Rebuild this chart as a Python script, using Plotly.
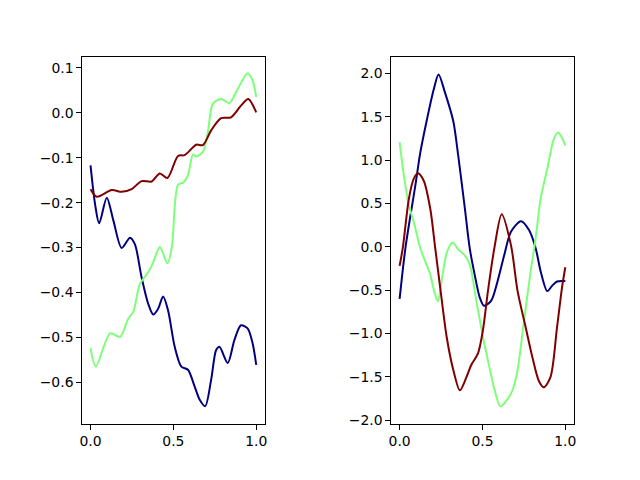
import plotly.graph_objects as go

# Left panel data
l_blue_x = [0.0, 0.028, 0.052, 0.098, 0.138, 0.188, 0.238, 0.268, 0.308, 0.348, 0.378, 0.408, 0.438, 0.468, 0.508, 0.548, 0.588, 0.628, 0.658, 0.692, 0.728, 0.758, 0.778, 0.828, 0.868, 0.908, 0.948, 0.978, 1.0]
l_blue_y = [-0.117, -0.205, -0.246, -0.189, -0.240, -0.301, -0.278, -0.293, -0.366, -0.425, -0.449, -0.436, -0.409, -0.440, -0.521, -0.565, -0.572, -0.609, -0.638, -0.653, -0.594, -0.528, -0.521, -0.557, -0.506, -0.473, -0.480, -0.513, -0.561]

l_green_x = [0.0, 0.032, 0.118, 0.178, 0.228, 0.258, 0.298, 0.348, 0.378, 0.418, 0.464, 0.490, 0.528, 0.560, 0.588, 0.618, 0.638, 0.678, 0.708, 0.738, 0.788, 0.838, 0.888, 0.948, 0.978, 1.0]
l_green_y = [-0.524, -0.565, -0.491, -0.499, -0.458, -0.443, -0.381, -0.355, -0.333, -0.299, -0.335, -0.301, -0.160, -0.155, -0.139, -0.093, -0.097, -0.087, -0.043, 0.020, 0.031, 0.022, 0.053, 0.088, 0.072, 0.035]

l_red_x = [0.0, 0.038, 0.128, 0.188, 0.248, 0.308, 0.368, 0.418, 0.464, 0.528, 0.568, 0.638, 0.678, 0.728, 0.788, 0.848, 0.908, 0.952, 1.0]
l_red_y = [-0.170, -0.187, -0.172, -0.176, -0.170, -0.152, -0.153, -0.135, -0.145, -0.096, -0.094, -0.071, -0.072, -0.039, -0.012, -0.010, 0.016, 0.031, 0.001]

# Right panel data
r_blue_x = [0.0, 0.036, 0.095, 0.125, 0.165, 0.205, 0.235, 0.274, 0.324, 0.354, 0.394, 0.423, 0.453, 0.483, 0.509, 0.553, 0.592, 0.632, 0.672, 0.732, 0.781, 0.821, 0.851, 0.891, 0.920, 0.950, 1.0]
r_blue_y = [-0.60, 0.0, 0.71, 1.09, 1.47, 1.81, 1.99, 1.78, 1.45, 1.05, 0.44, -0.015, -0.32, -0.58, -0.68, -0.62, -0.39, -0.09, 0.175, 0.297, 0.194, -0.015, -0.28, -0.51, -0.45, -0.40, -0.395]

r_green_x = [0.0, 0.026, 0.056, 0.085, 0.125, 0.155, 0.185, 0.211, 0.231, 0.254, 0.284, 0.320, 0.354, 0.394, 0.423, 0.463, 0.503, 0.533, 0.573, 0.608, 0.642, 0.682, 0.712, 0.751, 0.791, 0.821, 0.851, 0.891, 0.930, 0.956, 0.980, 1.0]
r_green_y = [1.21, 0.82, 0.48, 0.29, -0.015, -0.17, -0.32, -0.53, -0.63, -0.39, -0.07, 0.05, -0.03, -0.10, -0.20, -0.62, -1.04, -1.31, -1.65, -1.84, -1.78, -1.65, -1.42, -0.85, -0.28, 0.10, 0.556, 0.90, 1.24, 1.32, 1.26, 1.17]

r_red_x = [0.0, 0.02, 0.056, 0.085, 0.111, 0.145, 0.185, 0.215, 0.245, 0.284, 0.324, 0.364, 0.404, 0.433, 0.473, 0.503, 0.533, 0.573, 0.616, 0.672, 0.712, 0.761, 0.801, 0.841, 0.871, 0.911, 0.950, 0.980, 1.0]
r_red_y = [-0.22, 0.0, 0.556, 0.785, 0.85, 0.766, 0.44, -0.015, -0.47, -1.04, -1.42, -1.655, -1.50, -1.36, -1.23, -0.96, -0.51, 0.0, 0.377, 0.02, -0.51, -0.93, -1.27, -1.55, -1.62, -1.50, -0.93, -0.47, -0.235]

BLUE = "#000080"
GREEN = "#7dff7a"
RED = "#800000"

fig = go.Figure()

def add(x, y, color, xa, ya):
    fig.add_trace(go.Scatter(x=x, y=y, mode="lines", xaxis=xa, yaxis=ya,
                             line=dict(color=color, width=2, shape="spline", smoothing=0.8),
                             showlegend=False, hoverinfo="skip"))

add(l_blue_x, l_blue_y, BLUE, "x", "y")
add(l_green_x, l_green_y, GREEN, "x", "y")
add(l_red_x, l_red_y, RED, "x", "y")
add(r_blue_x, r_blue_y, BLUE, "x2", "y2")
add(r_green_x, r_green_y, GREEN, "x2", "y2")
add(r_red_x, r_red_y, RED, "x2", "y2")

axis_common = dict(showline=True, linecolor="black", linewidth=1, mirror=True,
                   ticks="outside", ticklen=5, tickwidth=1, tickcolor="black",
                   showgrid=False, zeroline=False,
                   tickfont=dict(family="DejaVu Sans", size=13.9, color="black"))

fig.update_layout(
    width=640, height=480,
    margin=dict(l=0, r=0, t=0, b=0),
    paper_bgcolor="white", plot_bgcolor="white",
    xaxis=dict(domain=[0.125, 0.4125], range=[-0.05, 1.05], tickvals=[0, 0.5, 1.0], tickformat=".1f", anchor="y", **axis_common),
    yaxis=dict(domain=[0.11, 0.88], range=[-0.692, 0.124], dtick=0.1, tick0=0, tickformat=".1f", anchor="x", **axis_common),
    xaxis2=dict(domain=[0.6125, 0.9], range=[-0.05, 1.05], tickvals=[0, 0.5, 1.0], tickformat=".1f", anchor="y2", **axis_common),
    yaxis2=dict(domain=[0.11, 0.88], range=[-2.04, 2.19], dtick=0.5, tick0=0, tickformat=".1f", anchor="x2", **axis_common),
)

fig.write_html("out.html")
